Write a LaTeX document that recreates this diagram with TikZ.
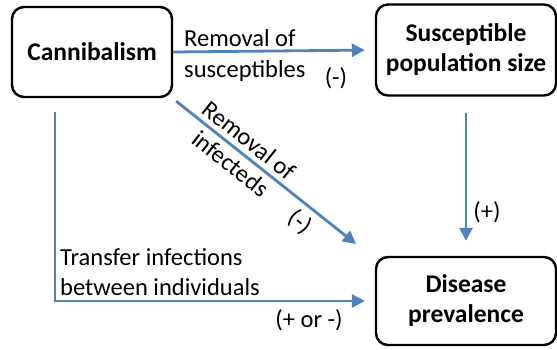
\documentclass[tikz,border=0pt]{standalone}
\usepackage{fontspec}
\setmainfont{Carlito}
\usetikzlibrary{arrows.meta,positioning}
\definecolor{linkblue}{HTML}{4F81BD}
\tikzset{
  factor/.style={draw,line width=2.4pt,rounded corners=12pt,align=center,font=\fontsize{25.5}{30}\selectfont\bfseries},
  link/.style={linkblue,line width=2.8pt,-{Triangle[length=13pt,width=13pt]}},
  lbl/.style={font=\fontsize{24.5}{30}\selectfont,inner sep=0pt}
}
\begin{document}
\begin{tikzpicture}[x=1pt,y=1pt]
\useasboundingbox (0,0) rectangle (557,349);
% the three boxes
\node[factor,minimum width=160pt,minimum height=90pt] (can) at (92,297) {Cannibalism};
\node[factor,minimum width=180pt,minimum height=91pt] (sus) at (466,299) {Susceptible\\population size};
\node[factor,minimum width=180pt,minimum height=88pt] (dis) at (466,48) {Disease\\prevalence};
% free ends of the arrows
\coordinate (dtip) at (356,105);
\coordinate (lstart) at (55,237);
% arrows
\draw[link,shorten >=10pt] (can.east) -- (sus.west);
\draw[link] ([shift={(3,-3)}]can.south east) -- (dtip);
\draw[link,shorten <=16pt,shorten >=15pt] (sus.south) -- (dis.north);
\draw[link,shorten >=10pt] (lstart) |- (dis.west);
% labels
\node[lbl,anchor=base west] (rs1) at (184,302) {Removal of};
\node[lbl,anchor=base west] (rs2) at (184,272) {susceptibles};
\node[lbl] (rsm) at (336,271) {(-)};
\node[lbl,rotate=-38.5,align=center] (ri) at (240,197) {Removal of\\infecteds};
\node[lbl,rotate=-38.5] (rim) at (300,127) {(-)};
\node[lbl] (sp) at (487,137) {(+)};
\node[lbl,align=left,anchor=west] (tr) at (60,77) {Transfer infections\\between individuals};
\node[lbl] (tpm) at (309,29) {(+ or -)};
\end{tikzpicture}
\end{document}
